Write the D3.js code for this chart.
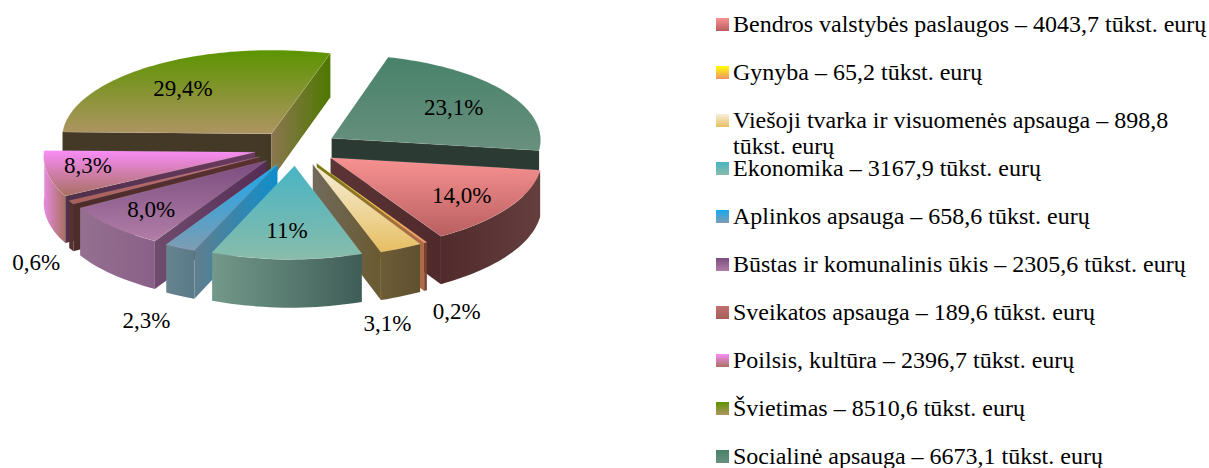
<!DOCTYPE html>
<html><head><meta charset="utf-8">
<script src="https://cdnjs.cloudflare.com/ajax/libs/d3/7.8.5/d3.min.js"></script>
<style>html,body{margin:0;padding:0;background:#fff}svg{display:block}text{font-family:"Liberation Serif","Times New Roman",serif;fill:#000}</style>
</head><body><svg id="c" width="1209" height="468"></svg>
<script>
// ---- data ----
const categories = ["Bendros valstybės paslaugos","Gynyba","Viešoji tvarka ir visuomenės apsauga","Ekonomika","Aplinkos apsauga","Būstas ir komunalinis ūkis","Sveikatos apsauga","Poilsis, kultūra","Švietimas","Socialinė apsauga"];
const amounts = [4043.7,65.2,898.8,3167.9,658.6,2305.6,189.6,2396.7,8510.6,6673.1];
const amountLabels = ["4043,7","65,2","898,8","3167,9","658,6","2305,6","189,6","2396,7","8510,6","6673,1"];
const percentLabels = ["14,0%","0,2%","3,1%","11%","2,3%","8,0%","0,6%","8,3%","29,4%","23,1%"];
// ---- styles ----
const topFrom  = ["#f89292","#ffff00","#f7efdc","#48b4c4","#18a8ee","#7a4c7e","#c07070","#f98cf8","#5c9400","#48826a"];
const topTo    = ["#b95e60","#f09468","#e6bf62","#88bcaa","#7e9cb2","#b27ea8","#a85e58","#a87060","#ae9462","#68907e"];
const wallFrom = ["#512a2c","#7a4030","#6e5c36","#73998a","#66848f","#94708f","#54302f","#e88ae0","#8a7550","#2b3a33"];
const wallTo   = ["#653e3e","#7a4030","#5f5030","#3f5d57","#5a7a88","#8a6088","#54302f","#a87060","#8a7550","#2b3a33"];
const cutFrom  = ["#5c3436","#7a7a10","#716a5c","#5a7078","#607e8d","#6f4c6e","#4d2c2c","#50304a","#8c7650","#2b3a33"];
const cutTo    = ["#4f292b","#b06a48","#6a5a30","#40a0b0","#0f8ecb","#552c56","#5a3030","#6a3a60","#4e7800","#2b3a33"];
const rearCut  = "#443826";
// ---- geometry of the projected pie ----
const radius = 210, explode = 42, thickness = 46, X0 = 296, Y0 = 148, tilt = 0.42;
const vanishX = 450, depthX = 4500, depthY = 5000, roll = 0.016;
const firstAngle = 98 * Math.PI / 180;
const labelPlace = [[124,157],[156.9,353],[167.2,356],[180.8,148],[197.2,361],[222.9,157],[219.2,316],[257,168],[318.5,144],[58.5,144]];

const svg = d3.select("#c");
const defs = svg.append("defs");
const pie = d3.pie().sort(null).startAngle(firstAngle).endAngle(firstAngle + 2*Math.PI).value(d => d);
const slices = pie(amounts).map((a,i) => ({...a, i, mid:(a.startAngle+a.endAngle)/2}));

function project(u, w, z) {
  const sx = 1/(1 + w/depthX), sy = 1/(1 + w/depthY);
  return [vanishX + (X0 + u - vanishX)*sx,
          Y0 - tilt*w*sy + z*thickness*(1 - w/5000) + roll*Math.min(0, u)];
}
const line = d3.line();
function grad(id, c1, c2, vertical) {
  const g = defs.append("linearGradient").attr("id", id)
    .attr("x1",0).attr("y1",0).attr("x2",vertical?0:1).attr("y2",vertical?1:0);
  g.append("stop").attr("offset",0).attr("stop-color",c1);
  g.append("stop").attr("offset",1).attr("stop-color",c2);
  return `url(#${id})`;
}
const arcPoints = (s, a0, a1, z) => {
  const ox = explode*Math.sin(s.mid), oy = explode*Math.cos(s.mid);
  const n = Math.max(2, Math.ceil((a1-a0)/0.03));
  return d3.range(n+1).map(k => {
    const a = a0 + (a1-a0)*k/n;
    return project(ox + radius*Math.sin(a), oy + radius*Math.cos(a), z);
  });
};
const apex = (s, z) => project(explode*Math.sin(s.mid), explode*Math.cos(s.mid), z);

const order = slices.slice().sort((a,b) => Math.cos(b.mid) - Math.cos(a.mid));
const g = svg.append("g");
order.forEach(s => {
  const i = s.i, group = g.append("g");
  // radial cut faces that look at the viewer
  const startVisible = Math.sin(s.startAngle) < 0, endVisible = Math.sin(s.endAngle) > 0;
  [[s.startAngle, startVisible],[s.endAngle, endVisible]].forEach(([a, vis], k) => {
    if (!vis) return;
    const p = arcPoints(s, a, a, 0)[0], q = arcPoints(s, a, a, 1)[0];
    const both = startVisible && endVisible && k === 0;
    group.append("path").attr("d", line([apex(s,0), p, q, apex(s,1)]) + "Z")
      .attr("fill", both ? rearCut : grad(`cut${i}${k}`, cutFrom[i], cutTo[i], false));
  });
  // outer wall
  const wa = Math.max(s.startAngle, Math.PI/2), wbRaw = Math.min(s.endAngle, 3*Math.PI/2);
  if (wbRaw > wa) {
    const up = arcPoints(s, wa, wbRaw, 0), dn = arcPoints(s, wa, wbRaw, 1).reverse();
    group.append("path").attr("d", line(up.concat(dn)) + "Z")
      .attr("fill", grad(`wall${i}`, wallFrom[i], wallTo[i], false));
  }
  // top face
  group.append("path")
    .attr("d", line([apex(s,0)].concat(arcPoints(s, s.startAngle, s.endAngle, 0))) + "Z")
    .attr("fill", grad(`top${i}`, topFrom[i], topTo[i], true))
    .attr("stroke","#fff").attr("stroke-opacity",0.18).attr("stroke-width",0.6);
});
// percent labels
slices.forEach(s => {
  const [deg, r] = labelPlace[s.i], a = deg*Math.PI/180;
  const ox = explode*Math.sin(s.mid), oy = explode*Math.cos(s.mid);
  const [x,y] = project(ox + r*Math.sin(a), oy + r*Math.cos(a), 0);
  svg.append("text").attr("x",x).attr("y",y+7.5).attr("text-anchor","middle")
    .attr("font-size",23).text(percentLabels[s.i]);
});
// legend
const legendY = d3.scalePoint().domain(d3.range(categories.length)).range([25,457]);
const fs = 24;
categories.forEach((c,i) => {
  const y = legendY(i);
  svg.append("rect").attr("x",716).attr("y",y-7).attr("width",13).attr("height",13)
    .attr("fill",`url(#top${i})`);
  const full = `${c} – ${amountLabels[i]} tūkst. eurų`;
  if (i === 2) {
    svg.append("text").attr("x",733).attr("y",y+7).attr("font-size",fs).text(`${c} – ${amountLabels[i]}`);
    svg.append("text").attr("x",733).attr("y",y+33).attr("font-size",fs).text("tūkst. eurų");
  } else {
    svg.append("text").attr("x",733).attr("y",y+7).attr("font-size",fs).text(full);
  }
});
</script></body></html>
